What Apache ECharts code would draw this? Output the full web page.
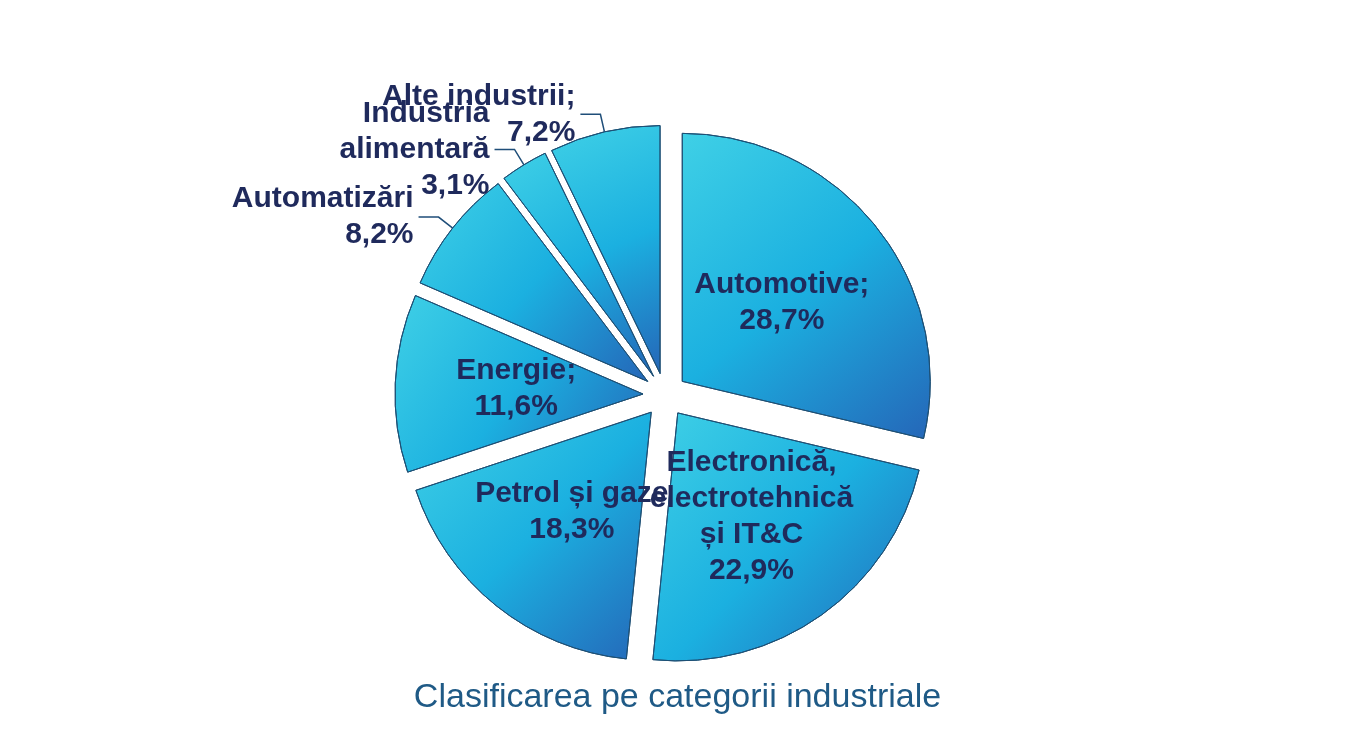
<!DOCTYPE html>
<html><head><meta charset="utf-8">
<script src="https://cdn.jsdelivr.net/npm/echarts@6/dist/echarts.min.js"></script>
<style>html,body{margin:0;padding:0;background:#fff}#c{width:1355px;height:742px}</style>
</head><body><div id="c"></div>
<script>
const categories = ["Automotive;", "Electronică,\nelectrotehnică\nși IT&C", "Petrol și gaze", "Energie;", "Automatizări", "Industria\nalimentară", "Alte industrii;"];
const values = [28.7, 22.9, 18.3, 11.6, 8.2, 3.1, 7.2];
const outside = [false, false, false, false, true, true, true];
const chart = echarts.init(document.getElementById('c'));
const fmt = v => v.toFixed(1).replace('.', ',') + '%';
const grad = {type:'linear',x:0,y:0,x2:1,y2:1,colorStops:[{offset:0,color:'#3fd0e6'},{offset:0.5,color:'#1bb0e0'},{offset:1,color:'#2566b8'}]};
chart.setOption({
  title:{text:'Clasificarea pe categorii industriale',left:'center',top:676,textStyle:{fontFamily:'Liberation Sans',fontWeight:'normal',fontSize:34,color:'#1f5a86'}},
  series:[{
    type:'pie', center:[665,395], radius:[0,248], startAngle:90, clockwise:true,
    avoidLabelOverlap:false,
    selectedMode:'multiple', selectedOffset:22,
    itemStyle:{color:grad,borderColor:'#1d4f74',borderWidth:1},
    labelLine:{lineStyle:{color:'#1f4e79',width:1.5},length:18,length2:20},
    labelLayout:{hideOverlap:false},
    data: categories.map((n,i)=>({name:n,value:values[i],selected:true,
      label:{show:true,position:outside[i]?'outside':'inside',
        formatter: n + '\n' + fmt(values[i]),
        fontFamily:'Liberation Sans',fontWeight:'bold',fontSize:30,lineHeight:36,color:'#1f2a5c',align:'center'}
    }))
  }]
});
</script></body></html>
